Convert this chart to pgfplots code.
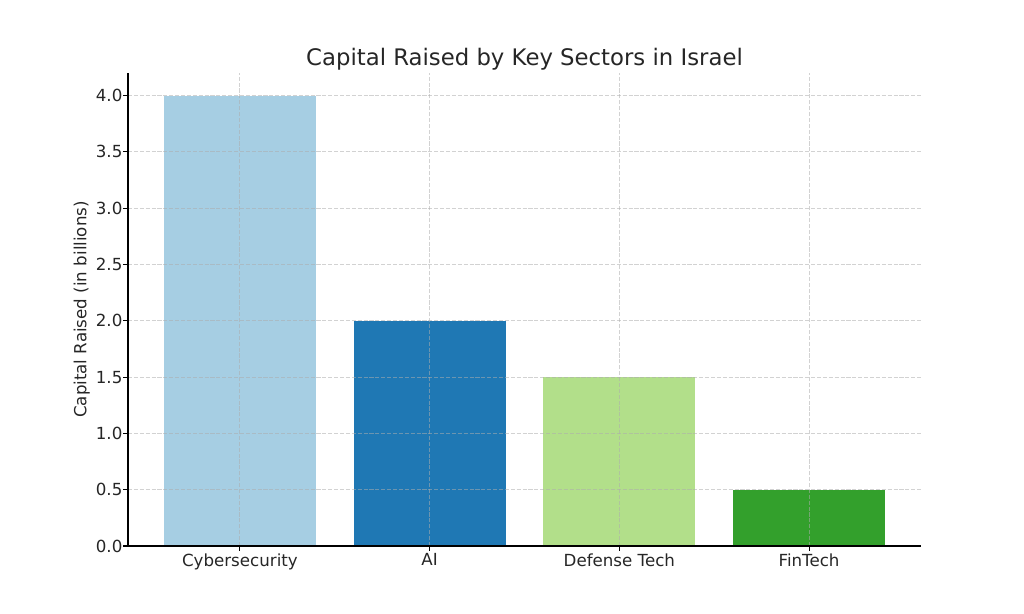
\documentclass[border=0pt]{standalone}
\usepackage{pgfplots}
\pgfplotsset{compat=1.18}
\usepackage{fontspec}
\setmainfont{DejaVu Sans}
\definecolor{c1}{HTML}{A6CEE3}
\definecolor{c2}{HTML}{1F78B4}
\definecolor{c3}{HTML}{B2DF8A}
\definecolor{c4}{HTML}{33A02C}
\definecolor{txt}{HTML}{262626}
\begin{document}
\begin{tikzpicture}
\useasboundingbox (0,0) rectangle (737.28pt,442.08pt);
\begin{axis}[
  at={(92.16pt,48.96pt)}, anchor=south west,
  scale only axis, width=570.96pt, height=340.56pt,
  xmin=-0.59, xmax=3.59, ymin=0, ymax=4.2,
  axis x line*=bottom, axis y line*=left,
  axis line style={black, line width=0.8pt},
  xtick={0,1,2,3},
  xticklabels={Cybersecurity, AI, Defense Tech, FinTech},
  ytick={0,0.5,1,1.5,2,2.5,3,3.5,4},
  yticklabel={\pgfmathprintnumber[fixed,fixed zerofill,precision=1]{\tick}},
  /pgf/number format/assume math mode=true,
  tick align=outside,
  major tick length=3.5pt,
  tick style={black, line width=0.8pt},
  ticklabel style={font=\fontsize{12}{14}\selectfont, text=txt},
  yticklabel style={xshift=3pt},
  xticklabel style={yshift=1.5pt},
  grid=major,
  major grid style={dash pattern=on 2.96pt off 1.28pt, line width=0.7pt, color=black!32, opacity=0.55},
  axis on top,
  title={Capital Raised by Key Sectors in Israel},
  title style={font=\fontsize{16.4}{19}\selectfont, text=txt, yshift=-7.8pt},
  ylabel={Capital Raised (in billions)},
  ylabel style={font=\fontsize{12}{14}\selectfont, text=txt, yshift=-2.5pt},
  ybar, bar width=0.8, bar shift=0pt,
]
\addplot[fill=c1, draw=none] coordinates {(0,4.0)};
\addplot[fill=c2, draw=none] coordinates {(1,2.0)};
\addplot[fill=c3, draw=none] coordinates {(2,1.5)};
\addplot[fill=c4, draw=none] coordinates {(3,0.5)};
\end{axis}
\end{tikzpicture}
\end{document}
